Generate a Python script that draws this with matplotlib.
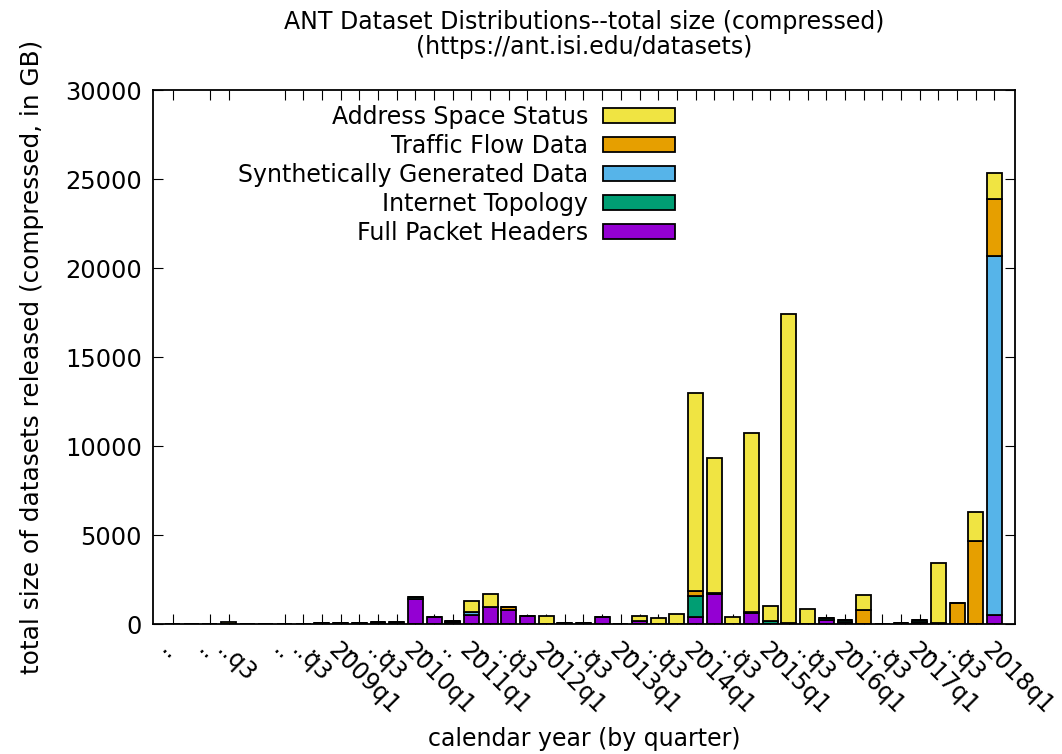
import numpy as np
import matplotlib
matplotlib.use("Agg")
import matplotlib.pyplot as plt

# one slot per released quarter (empty label = no release row)
quarter_labels = [
    "..", "", "..", "..q3", "", "", "..", "..q3", "..", "2009q1",
    "..", "..q3", "..", "2010q1", "..", "..", "2011q1", "..", "..q3", "..",
    "2012q1", "..", "..q3", "..", "2013q1", "..", "..q3", "..", "2014q1", "..",
    "..q3", "..", "2015q1", "..", "..q3", "..", "2016q1", "..", "..q3", "..",
    "2017q1", "..", "..q3", "..", "2018q1",
]

# sizes in GB
full_packet_headers = [
    15, 0, 15, 0, 0, 0, 20, 25, 30, 30,
    30, 60, 130, 1420, 370, 100, 520, 970, 780, 450,
    20, 30, 30, 390, 20, 150, 20, 0, 380, 1700,
    0, 600, 0, 60, 0, 200, 100, 0, 20, 40,
    120, 60, 0, 0, 520,
]
internet_topology = [
    0, 0, 0, 0, 0, 0, 0, 0, 0, 0,
    0, 60, 0, 70, 0, 80, 0, 0, 0, 0,
    0, 0, 0, 0, 0, 0, 0, 0, 1190, 0,
    0, 0, 150, 0, 0, 120, 100, 0, 0, 0,
    80, 0, 0, 0, 0,
]
synthetic_data = [
    0, 0, 0, 0, 0, 0, 0, 0, 0, 0,
    0, 0, 0, 0, 0, 0, 180, 0, 0, 0,
    0, 0, 0, 0, 0, 0, 0, 0, 0, 0,
    0, 0, 0, 0, 0, 0, 0, 0, 0, 0,
    0, 0, 0, 0, 20130,
]
traffic_flow = [
    0, 0, 0, 0, 0, 0, 0, 0, 0, 0,
    0, 0, 0, 0, 0, 0, 0, 0, 200, 0,
    0, 0, 0, 0, 0, 0, 0, 0, 300, 60,
    0, 60, 0, 0, 0, 0, 0, 800, 0, 0,
    0, 0, 1200, 4650, 3200,
]
address_space = [
    0, 0, 0, 130, 0, 0, 0, 0, 0, 0,
    0, 0, 0, 0, 0, 0, 600, 720, 0, 0,
    450, 0, 0, 0, 0, 320, 300, 540, 11130, 7590,
    380, 10050, 850, 17370, 830, 0, 0, 850, 0, 0,
    0, 3390, 0, 1650, 1500,
]

series = [
    ("Full Packet Headers", full_packet_headers, "#9400d3"),
    ("Internet Topology", internet_topology, "#009e73"),
    ("Synthetically Generated Data", synthetic_data, "#56b4e9"),
    ("Traffic Flow Data", traffic_flow, "#e69f00"),
    ("Address Space Status", address_space, "#f0e442"),
]

plt.rcParams['font.family'] = ['DejaVu Sans']
fs = 17

fig = plt.figure(figsize=(10.62, 7.54), dpi=100)
ax = fig.add_axes([0.144, 0.1724, 0.8117, 0.7082])

x = np.arange(len(quarter_labels))
bottom = np.zeros(len(x))
handles = []
for name, vals, col in series:
    vals = np.array(vals, dtype=float)
    b = ax.bar(x, vals, width=0.8, bottom=bottom, color=col,
               edgecolor="black", linewidth=1.3, label=name)
    bottom += vals
    handles.append(b)

ax.set_xlim(-1.05, 45.1)
ax.set_ylim(0, 30000)
ax.set_yticks(np.arange(0, 30001, 5000))

tick_pos = [i for i, l in enumerate(quarter_labels) if l]
ax.set_xticks(tick_pos)
ax.set_xticklabels([quarter_labels[i] for i in tick_pos], rotation=-45,
                   ha="left", va="top", rotation_mode="anchor")
ax.set_axisbelow(True)
ax.tick_params(direction="in", length=7, width=0.8, top=True, right=True,
               labelsize=fs)
ax.tick_params(axis="y", pad=8, labelsize=17.4)
ax.tick_params(axis="x", pad=10)
for s in ax.spines.values():
    s.set_linewidth(1.3)

ax.set_title("ANT Dataset Distributions--total size (compressed)\n"
             "(https://ant.isi.edu/datasets)", fontsize=fs, pad=26,
             linespacing=1.05)
ax.set_ylabel("total size of datasets released (compressed, in GB)",
              fontsize=17.8, labelpad=15)
ax.set_xlabel("calendar year (by quarter)", fontsize=fs, labelpad=6)

ax.legend(handles[::-1], [s[0] for s in series][::-1], loc="upper right",
          bbox_to_anchor=(0.6114, 0.981), frameon=False, markerfirst=False,
          fontsize=fs, handlelength=3.05, handleheight=0.6,
          labelspacing=0.215, handletextpad=0.64, borderaxespad=0,
          borderpad=0.2)

fig.savefig("out.png", dpi=100)
